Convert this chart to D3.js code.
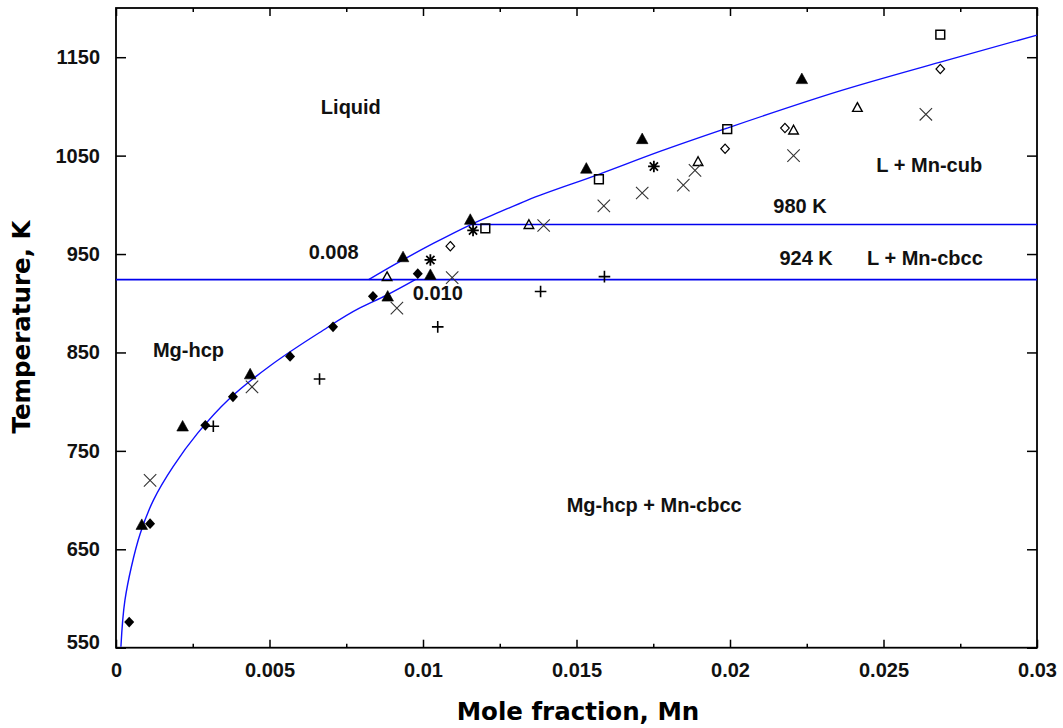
<!DOCTYPE html>
<html lang="en">
<head>
<meta charset="UTF-8">
<title>Mg-Mn phase diagram</title>
<script src="https://cdn.jsdelivr.net/npm/d3@7"></script>
<style>
  body { margin: 0; background: #fff; }
  svg { display: block; }
  .tick text { font-family: "Liberation Sans", Arial, sans-serif; font-weight: bold; font-size: 20px; fill: #111; }
  .lbl { font-family: "Liberation Sans", Arial, sans-serif; font-weight: bold; font-size: 20px; fill: #111; }
  .title { font-family: "DejaVu Sans", Verdana, sans-serif; font-weight: bold; font-size: 24.5px; fill: #000; }
</style>
</head>
<body>
<div id="chart"></div>
<script>
// ---- data: [mole fraction Mn, temperature K] ----
const solvus = [[0.00016, 551], [0.00029, 598], [0.0005, 632], [0.00079, 666], [0.00122, 700],
  [0.00186, 734], [0.00266, 768], [0.00366, 802], [0.00500, 836], [0.00662, 870],
  [0.00793, 895], [0.0088, 908], [0.00975, 924]]
const liquidus = [[0.00823, 924], [0.00904, 938.7], [0.01035, 961], [0.01156, 980], [0.01252, 993],
  [0.01339, 1004.6], [0.01573, 1031], [0.01774, 1054.5], [0.01991, 1078], [0.02361, 1116],
  [0.02685, 1145], [0.03, 1172.5]]
const isotherms = [{ T: 924, from: 0, to: 0.03 }, { T: 980, from: 0.01156, to: 0.03 }]

const filledDiamonds = [[0.00043, 576], [0.00111, 676], [0.00291, 776], [0.00381, 805], [0.00567, 846],
  [0.00707, 876], [0.00837, 907], [0.00983, 930]]
const filledTriangles = [[0.00084, 675], [0.00217, 775], [0.00437, 828], [0.00885, 907], [0.00935, 947],
  [0.01024, 929], [0.01154, 985], [0.01532, 1037], [0.01714, 1067], [0.02234, 1128]]
const openTriangles = [[0.00883, 927], [0.01345, 980], [0.01896, 1044], [0.02207, 1076], [0.02415, 1099]]
const openSquares = [[0.01203, 976], [0.01573, 1026], [0.01991, 1077], [0.02685, 1173]]
const openDiamonds = [[0.01089, 958], [0.01984, 1057], [0.02179, 1078], [0.02685, 1138]]
const asterisks = [[0.01024, 944], [0.01163, 974], [0.01752, 1039]]
const crosses = [[0.00111, 720], [0.00443, 815], [0.00915, 895], [0.01095, 926], [0.01393, 979],
  [0.01589, 999], [0.01714, 1012], [0.01848, 1020], [0.01886, 1035], [0.02207, 1050], [0.02638, 1092]]
const pluses = [[0.00317, 775], [0.00663, 823], [0.01048, 876], [0.01383, 912], [0.01591, 927]]

const xMajor = [0, 0.005, 0.01, 0.015, 0.02, 0.025, 0.03]
const xTickLabels = ["0", "0.005", "0.01", "0.015", "0.02", "0.025", "0.03"]
const xMinor = [0.0025, 0.0075, 0.0125, 0.0175, 0.0225, 0.0275]
const yTicks = [550, 650, 750, 850, 950, 1050, 1150]

const regionLabels = [
  { text: "Liquid", x: 0.00765, T: 1099 },
  { text: "0.008", x: 0.00709, T: 952 },
  { text: "0.010", x: 0.01048, T: 910 },
  { text: "Mg-hcp", x: 0.00236, T: 853 },
  { text: "980 K", x: 0.02228, T: 999 },
  { text: "924 K", x: 0.02248, T: 946 },
  { text: "L + Mn-cbcc", x: 0.02635, T: 946 },
  { text: "L + Mn-cub", x: 0.02649, T: 1040 },
  { text: "Mg-hcp + Mn-cbcc", x: 0.01753, T: 695 }
]

const width = 1063
const height = 728
const plotLeft = 116, plotRight = 1037, plotTop = 8, plotBottom = 647.7

const x = d3.scaleLinear().domain([0, 0.03]).range([plotLeft, plotRight])
const y = d3.scaleLinear().domain([550, 1200]).range([plotBottom, plotTop])

const svg = d3.select("#chart").append("svg")
  .attr("width", width)
  .attr("height", height)

// axes: ticks point inward on all four sides
const xAxis = d3.axisBottom(x).tickValues(xMajor).tickSize(-8).tickPadding(15.5)
  .tickFormat((d, i) => xTickLabels[i])
svg.append("g").attr("transform", `translate(0,${plotBottom})`).call(xAxis)
svg.append("g").attr("transform", `translate(0,${plotBottom})`)
  .call(d3.axisBottom(x).tickValues(xMinor).tickSize(-4).tickFormat(""))
svg.append("g").attr("transform", `translate(0,${plotTop})`)
  .call(d3.axisTop(x).tickValues(xMajor).tickSize(-8).tickFormat(""))
svg.append("g").attr("transform", `translate(0,${plotTop})`)
  .call(d3.axisTop(x).tickValues(xMinor).tickSize(-4).tickFormat(""))

const yAxis = d3.axisLeft(y).tickValues(yTicks).tickSize(-10).tickPadding(16).tickFormat(d3.format("d"))
svg.append("g").attr("transform", `translate(${plotLeft},0)`).call(yAxis)
  .selectAll(".tick text").filter(d => d === 550).attr("dy", "0.05em")
svg.append("g").attr("transform", `translate(${plotRight},0)`)
  .call(d3.axisRight(y).tickValues(yTicks).tickSize(-10).tickFormat(""))

svg.selectAll(".domain").remove()
svg.selectAll(".tick line").attr("stroke", "#000").attr("stroke-width", 1.5)

svg.append("rect")
  .attr("x", plotLeft).attr("y", plotTop)
  .attr("width", plotRight - plotLeft).attr("height", plotBottom - plotTop)
  .attr("fill", "none").attr("stroke", "#000").attr("stroke-width", 1.8)

// phase boundaries
const line = d3.line().x(d => x(d[0])).y(d => y(d[1])).curve(d3.curveMonotoneX)
const lineY = d3.line().x(d => x(d[0])).y(d => y(d[1])).curve(d3.curveMonotoneY)

svg.append("path").datum(solvus).attr("d", lineY)
  .attr("fill", "none").attr("stroke", "#1010ff").attr("stroke-width", 1.4)
svg.append("path").datum(liquidus).attr("d", line)
  .attr("fill", "none").attr("stroke", "#1010ff").attr("stroke-width", 1.4)

svg.selectAll(".iso").data(isotherms).enter().append("line")
  .attr("x1", d => x(d.from)).attr("x2", d => x(d.to))
  .attr("y1", d => y(d.T)).attr("y2", d => y(d.T))
  .attr("stroke", "#0000ee").attr("stroke-width", 1.6)

// marker shapes, size = half width in px
const triType = { draw(c, r) { c.moveTo(0, -r); c.lineTo(r, r * 0.82); c.lineTo(-r, r * 0.82); c.closePath() } }
const squareType = { draw(c, r) { c.rect(-r, -r, 2 * r, 2 * r) } }
const diamondType = { draw(c, r) { c.moveTo(0, -r * 1.08); c.lineTo(r, 0); c.lineTo(0, r * 1.08); c.lineTo(-r, 0); c.closePath() } }
const timesType = { draw(c, r) { c.moveTo(-r, -r); c.lineTo(r, r); c.moveTo(-r, r); c.lineTo(r, -r) } }
const plusType = { draw(c, r) { c.moveTo(-r, 0); c.lineTo(r, 0); c.moveTo(0, -r); c.lineTo(0, r) } }
const starType = {
  draw(c, r) {
    const k = r * Math.SQRT1_2
    c.moveTo(-r, 0); c.lineTo(r, 0); c.moveTo(0, -r); c.lineTo(0, r)
    c.moveTo(-k, -k); c.lineTo(k, k); c.moveTo(-k, k); c.lineTo(k, -k)
  }
}

const series = [
  { data: filledDiamonds, type: diamondType, size: 5, fill: "#000", stroke: "none", sw: 0 },
  { data: filledTriangles, type: triType, size: 5.8, fill: "#000", stroke: "#000", sw: 0.6 },
  { data: openTriangles, type: triType, size: 4.8, fill: "none", stroke: "#000", sw: 1.4 },
  { data: openSquares, type: squareType, size: 4.4, fill: "none", stroke: "#000", sw: 1.5 },
  { data: openDiamonds, type: diamondType, size: 4.3, fill: "none", stroke: "#000", sw: 1.2 },
  { data: asterisks, type: starType, size: 5.8, fill: "none", stroke: "#000", sw: 1.8 },
  { data: crosses, type: timesType, size: 6.2, fill: "none", stroke: "#333", sw: 1.1 },
  { data: pluses, type: plusType, size: 5.8, fill: "none", stroke: "#000", sw: 1.6 }
]

series.forEach(s => {
  svg.append("g").selectAll("path").data(s.data).enter().append("path")
    .attr("transform", d => `translate(${x(d[0])},${y(d[1])})`)
    .attr("d", d3.symbol().type(s.type).size(s.size))
    .attr("fill", s.fill)
    .attr("stroke", s.stroke)
    .attr("stroke-width", s.sw)
})

// region labels
svg.selectAll(".lbl").data(regionLabels).enter().append("text")
  .attr("class", "lbl")
  .attr("x", d => x(d.x)).attr("y", d => y(d.T))
  .attr("dy", "0.35em")
  .attr("text-anchor", "middle")
  .text(d => d.text)

// axis titles
svg.append("text").attr("class", "title")
  .attr("transform", "translate(29.5,327) rotate(-90)")
  .attr("text-anchor", "middle")
  .text("Temperature, K")

svg.append("text").attr("class", "title")
  .attr("x", 578).attr("y", 720)
  .attr("text-anchor", "middle")
  .text("Mole fraction, Mn")
</script>
</body>
</html>
